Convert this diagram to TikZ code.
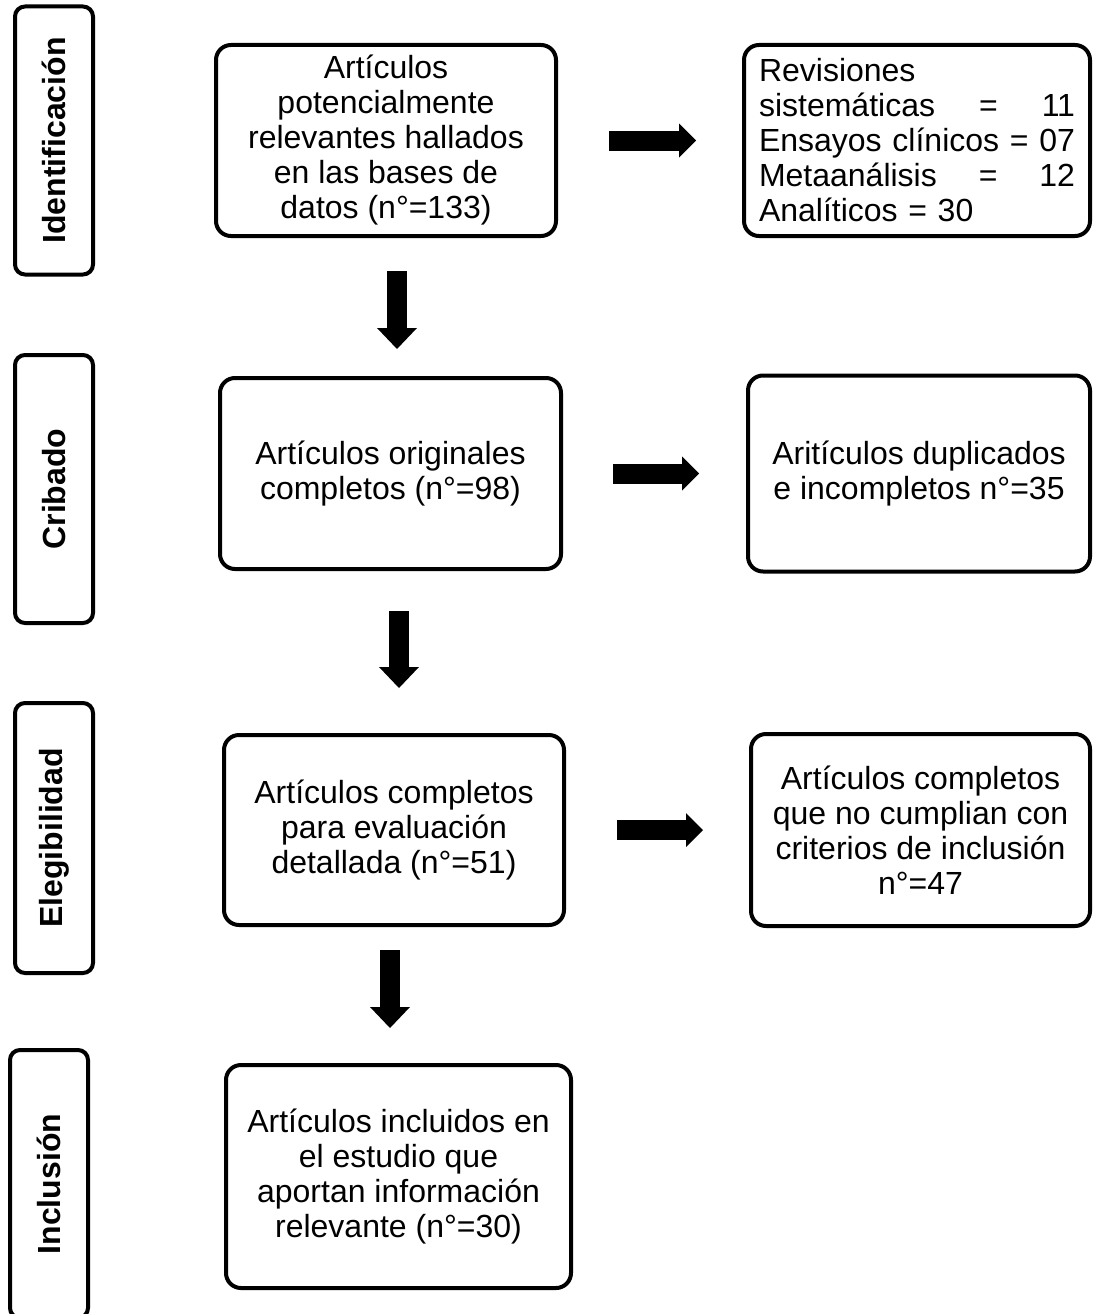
\documentclass[tikz,border=0pt]{standalone}
\usepackage{fontspec}
\setmainfont{Liberation Sans}
\usetikzlibrary{positioning,arrows.meta}

\tikzset{
  stage/.style={draw, line width=4pt, rounded corners=10pt, rotate=90,
    minimum width=268pt, minimum height=78pt, inner sep=0pt,
    font=\fontsize{32}{35}\selectfont\bfseries},
  box/.style={draw, line width=4pt, rounded corners=15pt, align=center,
    inner sep=0pt, font=\fontsize{32}{35}\selectfont},
  downarrow/.style={line width=20pt,
    -{Triangle[width=40pt,length=21pt,line width=0pt]}},
  sidearrow/.style={line width=20pt,
    -{Triangle[width=34pt,length=17pt,line width=0pt]}},
}

\begin{document}
\begin{tikzpicture}[x=1pt, y=-1pt]
  \useasboundingbox (0,0) rectangle (1093,1314);

  % etapas
  \node (ident) [stage] at (54,140.5) {Identificación};
  \node (cribado) [stage] at (54,489) {Cribado};
  \node (elegib) [stage, minimum width=270pt] at (54,838) {Elegibilidad};
  \node (inclus) [stage] at (49,1184) {Inclusión};

  % columna central
  \node (found) [box, minimum width=340pt, minimum height=191pt] at (386,140.5)
    {Artículos\\potencialmente\\relevantes hallados\\en las bases de\\datos (n°=133)};
  \node (originals) [box, minimum width=341pt, minimum height=191pt] at (390.5,473.5)
    {Artículos originales\\completos (n°=98)};
  \node (fulltext) [box, minimum width=340pt, minimum height=190pt] at (394,830)
    {Artículos completos\\para evaluación\\detallada (n°=51)};
  \node (included) [box, minimum width=345pt, minimum height=223pt] at (398.5,1176.5)
    {Artículos incluidos en\\el estudio que\\aportan información\\relevante (n°=30)};

  % columna derecha
  \node (types) [box, right=184pt of found, minimum width=346pt, minimum height=191pt,
    text width=316pt, align=left]
    {Revisiones\\
     sistemáticas\hfill=\hfill11\\
     Ensayos\hfill clínicos\hfill=\hfill07\\
     Metaanálisis\hfill=\hfill12\\
     Analíticos = 30};
  \node (dupes) [box, right=183pt of originals, minimum width=342pt, minimum height=196pt]
    {Aritículos duplicados\\e incompletos n°=35};
  \node (excluded) [box, right=183pt of fulltext, minimum width=339pt, minimum height=192pt]
    {Artículos completos\\que no cumplian con\\criterios de inclusión\\n°=47};

  % flechas
  \draw[downarrow, shorten <=33pt, shorten >=27pt]
    ([xshift=11pt]found.south) -- ([xshift=11pt]found.south |- originals.north);
  \draw[downarrow, shorten <=40pt, shorten >=45pt]
    ([xshift=8.5pt]originals.south) -- ([xshift=8.5pt]originals.south |- fulltext.north);
  \draw[downarrow, shorten <=23pt, shorten >=35pt]
    ([xshift=-4pt]fulltext.south) -- ([xshift=-4pt]fulltext.south |- included.north);
  \draw[sidearrow, shorten <=51pt, shorten >=46pt] (found) -- (types);
  \draw[sidearrow, shorten <=50pt, shorten >=47pt] (originals) -- (dupes);
  \draw[sidearrow, shorten <=51pt, shorten >=46pt] (fulltext) -- (excluded);
\end{tikzpicture}
\end{document}
